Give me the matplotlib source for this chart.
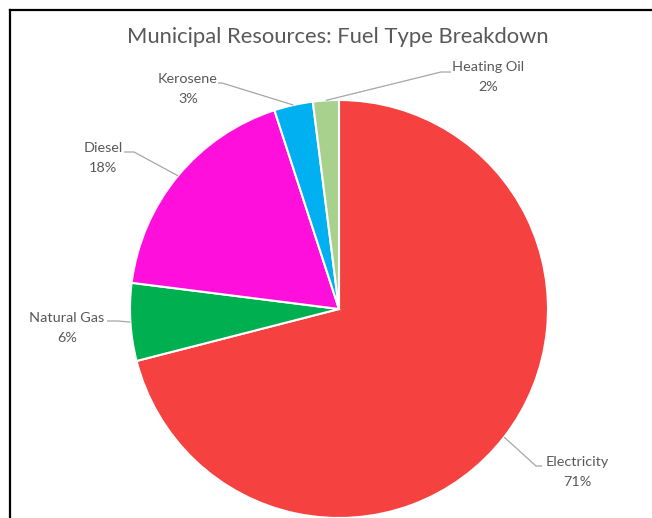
import numpy as np
import matplotlib
matplotlib.use("Agg")
from matplotlib import pyplot as plt

W, H = 652, 518

fuels = ['Electricity', 'Natural Gas', 'Diesel', 'Kerosene', 'Heating Oil']
shares = [71, 6, 18, 3, 2]
colors = ['#F64141', '#00B050', '#FF0FDC', '#00B0F0', '#A9D18E']

# label text centre (first line) and leader elbow, in pixels from top-left
label_pos = {
    'Electricity': (577, 462),
    'Natural Gas': (67, 318),
    'Diesel': (103, 148),
    'Kerosene': (188, 79),
    'Heating Oil': (488, 67),
}
elbow_pos = {
    'Electricity': (536, 466),
    'Natural Gas': (118, 321),
    'Diesel': (134, 152),
    'Kerosene': (222, 83),
    'Heating Oil': (441, 72),
}
line_end = {
    'Electricity': 542,
    'Natural Gas': 107,
    'Diesel': 124,
    'Kerosene': 218,
    'Heating Oil': 451,
}

cx, cy, r = 339, 309, 209

plt.rcParams['font.family'] = ['Lato', 'DejaVu Sans']
fig = plt.figure(figsize=(W / 100, H / 100), dpi=100)
ax = fig.add_axes([0, 0, 1, 1])

wedges, _ = ax.pie(shares, colors=colors, startangle=90, counterclock=False,
                   center=(cx, H - cy), radius=r,
                   wedgeprops=dict(edgecolor='white', linewidth=1.5))
ax.set_xlim(0, W)
ax.set_ylim(0, H)
ax.set_aspect('equal')
ax.axis('off')

# leader lines from each wedge's mid-angle out to its label
for w, name, pct in zip(wedges, fuels, shares):
    mid = np.deg2rad((w.theta1 + w.theta2) / 2)
    px, py = cx + r * np.cos(mid), H - cy + r * np.sin(mid)
    ex, ey = elbow_pos[name]
    ax.plot([px, ex, line_end[name]], [py, H - ey, H - ey],
            color='#A6A6A6', lw=0.9, solid_capstyle='butt')
    tx, ty = label_pos[name]
    ax.text(tx, H - ty, name, ha='center', va='center',
            fontsize=10.4, color='#595959')
    ax.text(tx, H - ty - 20, f'{pct}%', ha='center', va='center',
            fontsize=10.4, color='#595959')

ax.text(338, H - 37, 'Municipal Resources: Fuel Type Breakdown',
        ha='center', va='center', fontsize=15.8, color='#595959')

# chart frame (top and left edges visible)
ax.plot([9.5, W + 5], [H - 10, H - 10], color='black', lw=1.6, clip_on=False)
ax.plot([9.5, 9.5], [H - 10, -5], color='black', lw=1.6, clip_on=False)

fig.savefig('out.png', dpi=100)
